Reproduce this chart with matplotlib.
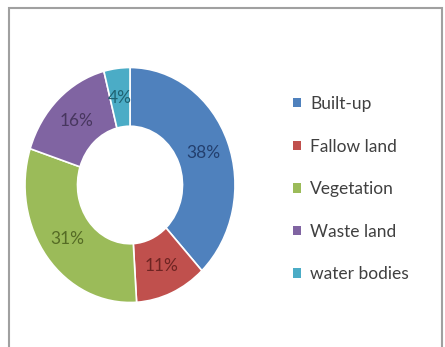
import matplotlib
matplotlib.use("Agg")
import matplotlib.pyplot as plt
from matplotlib.patches import Rectangle
import numpy as np

categories = ["Built-up", "Fallow land", "Vegetation", "Waste land", "water bodies"]
values = [38, 11, 31, 16, 4]
colors = ["#4F81BD", "#C0504D", "#9BBB59", "#8064A2", "#4BACC6"]
label_colors = ["#233F6E", "#6E2422", "#556B25", "#47365E", "#1F6373"]

plt.rcParams['font.family'] = ['Lato', 'DejaVu Sans']

W, H = 445, 347
fig = plt.figure(figsize=(W / 100, H / 100), dpi=100)
fig.patch.set_facecolor("white")

# chart border (left, top, right), bottom runs off the image
fig.patches.append(Rectangle((9 / W, -0.05), (442 - 9) / W, (H - 8) / H + 0.05,
                             transform=fig.transFigure, fill=False,
                             edgecolor="#a0a0a0", linewidth=1.5))

cx, cy, rx, ry = 130, 185, 105, 117.5
ax = fig.add_axes([(cx - rx) / W, (H - cy - ry) / H, 2 * rx / W, 2 * ry / H])
wedges, _ = ax.pie(values, colors=colors, startangle=90, counterclock=False,
                   radius=1.0, wedgeprops=dict(width=0.5, edgecolor="white", linewidth=1.2))
ax.set_aspect("auto")
ax.set_xlim(-1, 1)
ax.set_ylim(-1, 1)
ax.axis("off")

start = 90.0
for v, c in zip(values, label_colors):
    mid = start - v / 100 * 360 / 2
    start -= v / 100 * 360
    r = 0.75
    ax.text(r * np.cos(np.radians(mid)), r * np.sin(np.radians(mid)), f"{v}%",
            ha="center", va="center", fontsize=12.5, color=c)

leg = fig.legend(wedges, categories, loc="upper left",
                 bbox_to_anchor=(293 / W, 1 - 96 / H), frameon=False,
                 fontsize=12.5, labelcolor="#404040", handlelength=0.45,
                 handleheight=0.45, handletextpad=0.55, labelspacing=1.53,
                 borderaxespad=0, borderpad=0)
for h in leg.legend_handles:
    h.set_edgecolor("none")

fig.savefig("out.png", dpi=100, facecolor="white")
